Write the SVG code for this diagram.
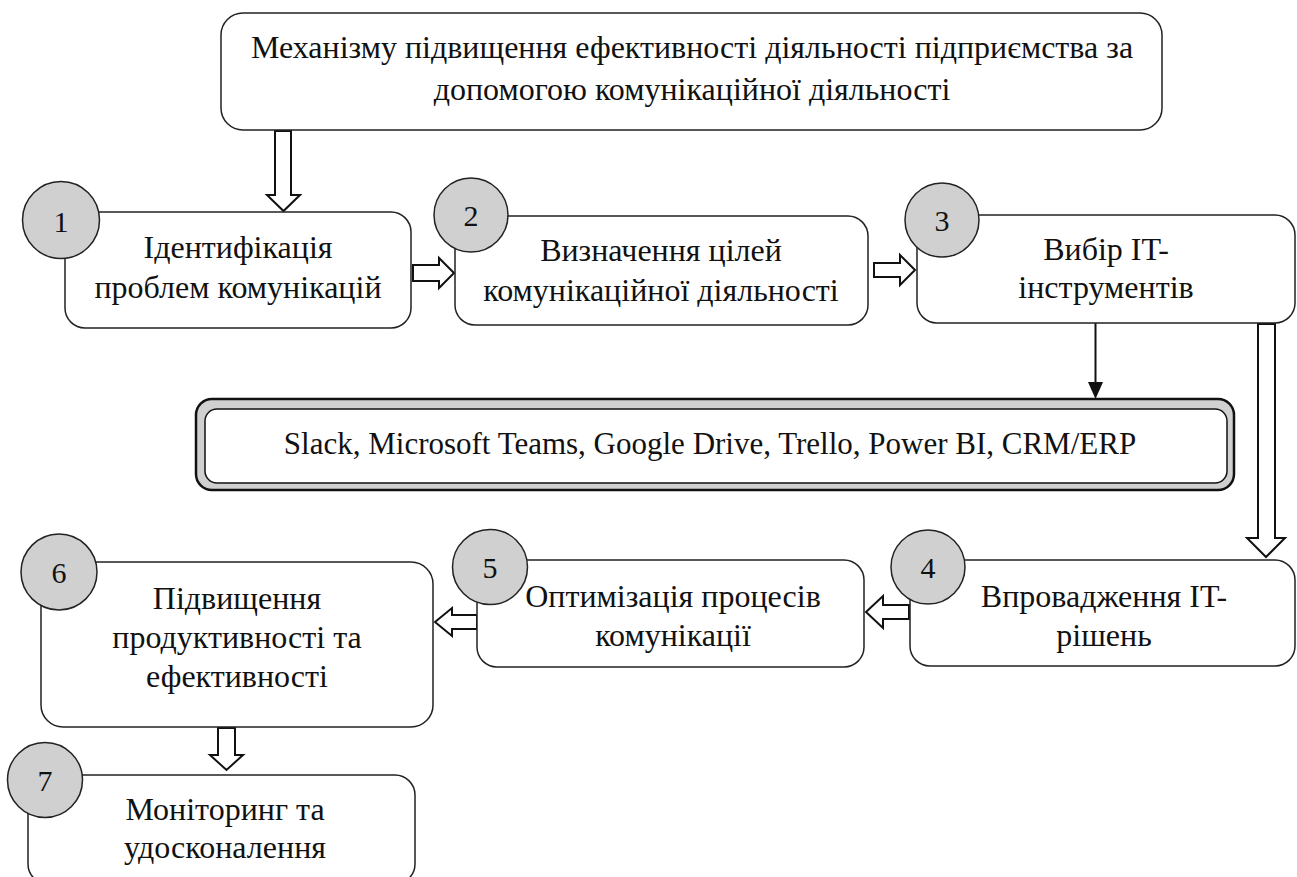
<svg xmlns="http://www.w3.org/2000/svg" width="1297" height="877" viewBox="0 0 1297 877">
<style>
.box{fill:#fff;stroke:#222;stroke-width:1.5}
.circ{fill:#d0d0d0;stroke:#222;stroke-width:1.5}
.blk{fill:#fff;stroke:#111;stroke-width:2;stroke-linejoin:miter}
text{font-family:'Liberation Serif','DejaVu Serif',serif;fill:#111;text-anchor:middle}
.t{font-size:32px}
.n{font-size:30px}
.ts{font-size:31px}
</style>
<rect width="1297" height="877" fill="#fff"/>
<g id="connectors">
<polygon class="blk" points="275,131 291,131 291,195 300,195 283.5,211 267,195 275,195"/>
<polygon class="blk" points="413,265 439,265 439,258 454,273 439,288 439,281 413,281"/>
<polygon class="blk" points="874,263 900,263 900,255 915,270 900,285 900,277 874,277"/>
<polygon class="blk" points="1258,324 1275,324 1275,538 1285,538 1266,557 1247,538 1258,538"/>
<polygon class="blk" points="909,605 883,605 883,596 866,612 883,628 883,619 909,619"/>
<polygon class="blk" points="477,615 452,615 452,608 435,622 452,636 452,629 477,629"/>
<polygon class="blk" points="218,728 235,728 235,755 243,755 226.5,770 210,755 218,755"/>
<line x1="1095.5" y1="323" x2="1095.5" y2="384" stroke="#111" stroke-width="2"/>
<path d="M1088,382 L1103,382 L1095.5,399 z" fill="#111"/>
</g>
<g id="top">
<rect class="box" x="221" y="13" width="941" height="117" rx="22"/>
<text class="t" x="692" y="58">Механізму підвищення ефективності діяльності підприємства за</text>
<text class="t" x="692" y="100">допомогою комунікаційної діяльності</text>
</g>
<g id="n1">
<rect class="box" x="65" y="212" width="346" height="116" rx="20"/>
<circle class="circ" cx="61" cy="220" r="38.5"/>
<text class="n" x="61" y="232">1</text>
<text class="t" x="238" y="258">Ідентифікація</text>
<text class="t" x="238" y="298">проблем комунікацій</text>
</g>
<g id="n2">
<rect class="box" x="455" y="216" width="413" height="109" rx="20"/>
<circle class="circ" cx="471" cy="215" r="37"/>
<text class="n" x="471" y="226">2</text>
<text class="t" x="661" y="261">Визначення цілей</text>
<text class="t" x="661" y="301">комунікаційної діяльності</text>
</g>
<g id="n3">
<rect class="box" x="917" y="215" width="378" height="108" rx="20"/>
<circle class="circ" cx="942" cy="220" r="37"/>
<text class="n" x="942" y="231">3</text>
<text class="t" x="1106" y="260">Вибір IT-</text>
<text class="t" x="1106" y="298">інструментів</text>
</g>
<g id="tools">
<rect x="196" y="399" width="1038" height="91" rx="16" fill="#d0d0d0" stroke="#111" stroke-width="2.5"/>
<rect x="205" y="409" width="1022" height="74" rx="12" fill="#fff" stroke="#111" stroke-width="1.5"/>
<text class="ts" x="710" y="454">Slack, Microsoft Teams, Google Drive, Trello, Power BI, CRM/ERP</text>
</g>
<g id="n4">
<rect class="box" x="910" y="560" width="385" height="106" rx="20"/>
<circle class="circ" cx="928" cy="567" r="37"/>
<text class="n" x="928" y="578">4</text>
<text class="t" x="1104" y="607">Впровадження IT-</text>
<text class="t" x="1104" y="646">рішень</text>
</g>
<g id="n5">
<rect class="box" x="477" y="560" width="387" height="107" rx="20"/>
<circle class="circ" cx="490" cy="567" r="37.5"/>
<text class="n" x="490" y="578">5</text>
<text class="t" x="673" y="607">Оптимізація процесів</text>
<text class="t" x="673" y="646">комунікації</text>
</g>
<g id="n6">
<rect class="box" x="41" y="562" width="392" height="165" rx="22"/>
<circle class="circ" cx="59" cy="572" r="38"/>
<text class="n" x="59" y="583">6</text>
<text class="t" x="237" y="609">Підвищення</text>
<text class="t" x="237" y="648">продуктивності та</text>
<text class="t" x="237" y="687">ефективності</text>
</g>
<g id="n7">
<rect class="box" x="28" y="775" width="387" height="109" rx="20"/>
<circle class="circ" cx="45" cy="780" r="37.5"/>
<text class="n" x="45" y="791">7</text>
<text class="t" x="225" y="820">Моніторинг та</text>
<text class="t" x="225" y="858">удосконалення</text>
</g>
</svg>
